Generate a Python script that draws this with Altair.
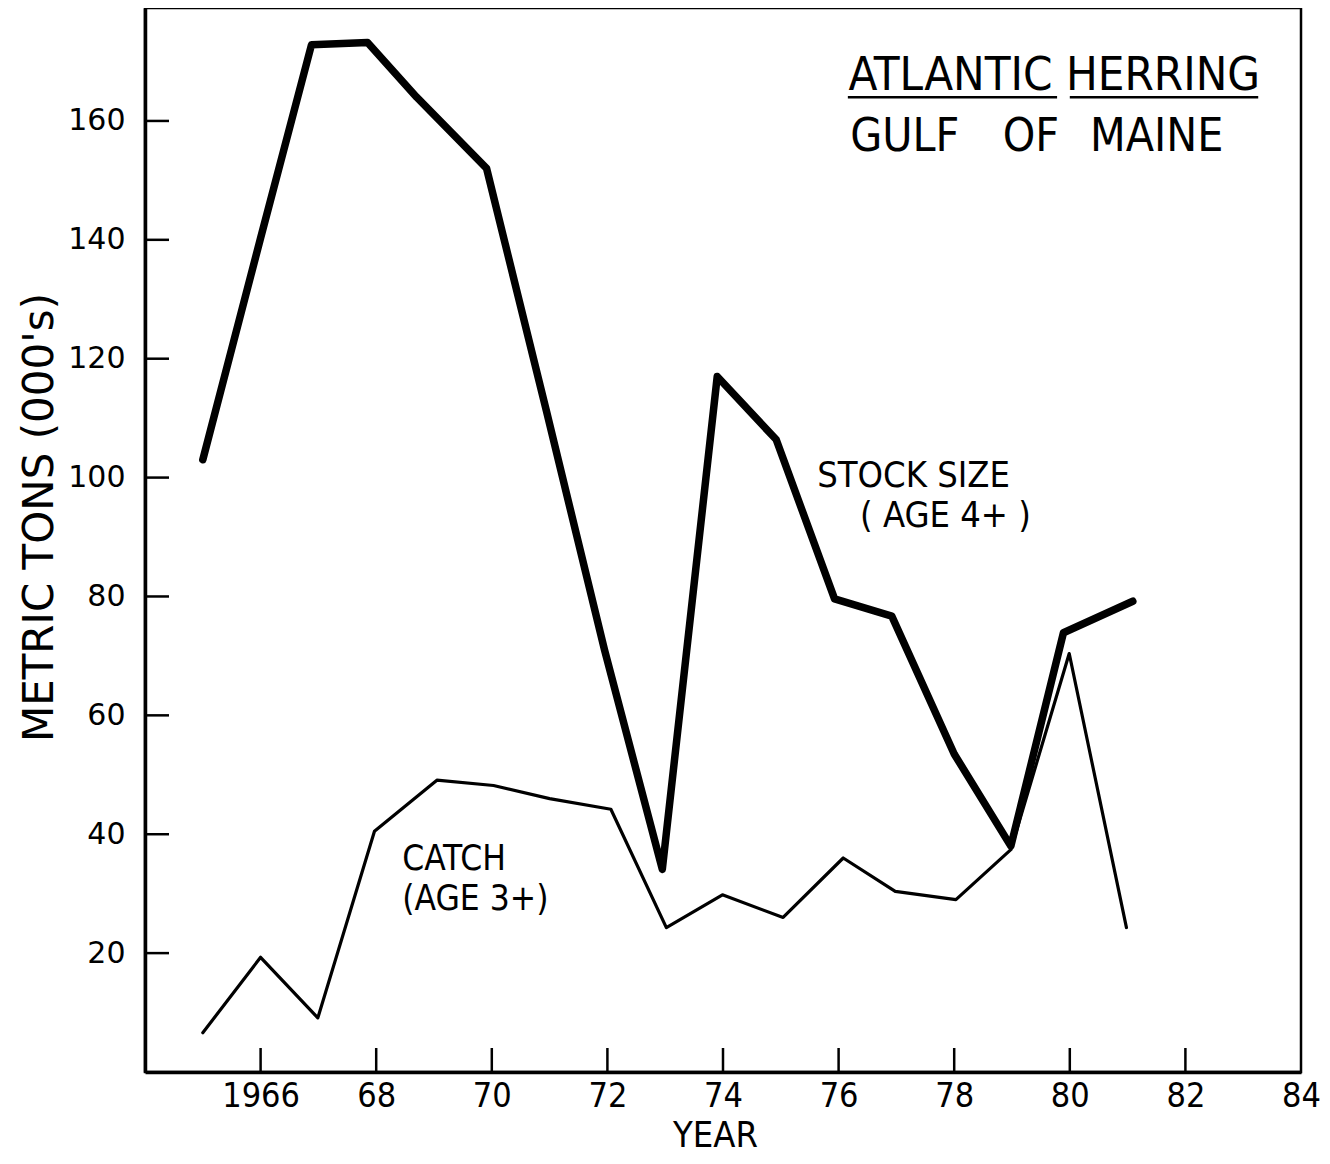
import altair as alt
import pandas as pd

# ---- data ----
stock_year = [1965.0, 1966.0, 1966.88, 1967.85, 1968.7, 1969.91, 1970.95, 1971.95, 1972.95,
              1973.9, 1974.92, 1975.93, 1976.92, 1978.0, 1978.98, 1979.89, 1981.09]
stock_tons = [103.0, 140.3, 172.8, 173.2, 164.0, 152.0, 111.0, 71.0, 34.1,
              117.0, 106.4, 79.6, 76.7, 53.5, 38.0, 73.9, 79.2]

catch_year = [1965.0, 1966.0, 1966.99, 1967.97, 1969.05, 1970.03, 1971.0, 1972.06, 1973.02,
              1973.99, 1975.04, 1976.08, 1976.98, 1978.03, 1978.98, 1979.99, 1980.98]
catch_tons = [6.6, 19.3, 9.1, 40.5, 49.1, 48.2, 46.0, 44.2, 24.3,
              29.8, 26.0, 36.0, 30.4, 29.0, 37.4, 70.4, 24.3]

x_label_years = [1966, 1968, 1970, 1972, 1974, 1976, 1978, 1980, 1982, 1984]
x_tick_years = [1966, 1968, 1970, 1972, 1974, 1976, 1978, 1980, 1982]
y_tick_values = [20, 40, 60, 80, 100, 120, 140, 160]

# annotation texts (placed in data coordinates)
ann_text = ["ATLANTIC HERRING", "GULF", "OF", "MAINE", "STOCK SIZE", "( AGE 4+ )", "CATCH", "(AGE 3+)"]
ann_year = [1976.17, 1976.2, 1978.84, 1980.35, 1975.63, 1976.37, 1968.45, 1968.45]
ann_tons = [165.2, 155.0, 155.0, 155.0, 98.4, 91.7, 34.0, 27.3]
ann_size = [47, 46, 46, 46, 36, 36, 35, 35]

underline_start = [1976.16, 1980.0]
underline_end = [1979.78, 1983.26]
underline_tons = [164.0, 164.0]

W, H = 1156, 1064
NARROW = "'Liberation Sans Narrow', 'DejaVu Sans Condensed', 'Liberation Sans', sans-serif"
WIDE = "'DejaVu Sans', sans-serif"

xs = alt.Scale(domain=[1964, 1984], nice=False, zero=False)
ys = alt.Scale(domain=[0, 179], nice=False, zero=False)

stock_df = pd.DataFrame({"year": stock_year, "tons": stock_tons})
catch_df = pd.DataFrame({"year": catch_year, "tons": catch_tons})
xt_df = pd.DataFrame({"year": x_tick_years})
yt_df = pd.DataFrame({"tons": y_tick_values})
ann_df = pd.DataFrame({"year": ann_year, "tons": ann_tons, "text": ann_text, "size": ann_size})
ul_df = pd.DataFrame({"x1": underline_start, "x2": underline_end, "tons": underline_tons})

x_axis = alt.Axis(
    values=x_label_years, format="d",
    labelExpr="datum.value == 1966 ? datum.label : substring(datum.label, 2)",
    ticks=False, domain=True, domainColor="black", domainWidth=3.5, grid=False,
    labelFont=NARROW, labelFontSize=34, labelPadding=7, labelFlush=False,
    labelOverlap=False, labelColor="black",
    title="YEAR", titleFont=NARROW, titleFontSize=36, titleFontWeight="normal",
    titleX=570, titleY=74, titleBaseline="alphabetic", titleAlign="center", titleColor="black",
)
y_axis = alt.Axis(
    values=y_tick_values, ticks=False, domain=True, domainColor="black", domainWidth=3.5,
    grid=False,
    labelFont=WIDE, labelFontSize=30, labelPadding=20, labelFlush=False,
    labelOverlap=False, labelColor="black",
    title="METRIC TONS (000's)", titleFont=WIDE, titleFontSize=42, titleFontWeight="normal",
    titleAngle=270, titleX=-93, titleY=509, titleBaseline="alphabetic", titleAlign="center",
    titleColor="black",
)

stock = alt.Chart(stock_df).mark_line(
    color="black", strokeWidth=7.5, strokeJoin="round", strokeCap="round"
).encode(
    x=alt.X("year:Q", scale=xs, axis=x_axis),
    y=alt.Y("tons:Q", scale=ys, axis=y_axis),
    order="year:Q",
)

catch = alt.Chart(catch_df).mark_line(
    color="black", strokeWidth=3.2, strokeJoin="round", strokeCap="round"
).encode(
    x=alt.X("year:Q", scale=xs),
    y=alt.Y("tons:Q", scale=ys),
    order="year:Q",
)

xticks = alt.Chart(xt_df).mark_rule(color="black", strokeWidth=2.5).encode(
    x=alt.X("year:Q", scale=xs),
    y=alt.value(H),
    y2=alt.value(H - 24),
)

yticks = alt.Chart(yt_df).mark_rule(color="black", strokeWidth=2.5).encode(
    y=alt.Y("tons:Q", scale=ys),
    x=alt.value(0),
    x2=alt.value(24),
)

ann = alt.Chart(ann_df).mark_text(
    align="left", baseline="alphabetic", font=NARROW, color="black"
).encode(
    x=alt.X("year:Q", scale=xs),
    y=alt.Y("tons:Q", scale=ys),
    text="text:N",
    size=alt.Size("size:Q", scale=None, legend=None),
)

underline = alt.Chart(ul_df).mark_rule(color="black", strokeWidth=2.5).encode(
    x=alt.X("x1:Q", scale=xs),
    x2="x2:Q",
    y=alt.Y("tons:Q", scale=ys),
)

chart = alt.layer(catch, stock, xticks, yticks, ann, underline).properties(
    width=W, height=H,
    background="white",
    autosize=alt.AutoSizeParams(type="none"),
    padding={"left": 137, "top": 0, "right": 20, "bottom": 84},
).configure_view(
    stroke="black", strokeWidth=2.5
)

chart.save("out.html", embed_options={"renderer": "svg", "actions": False})
